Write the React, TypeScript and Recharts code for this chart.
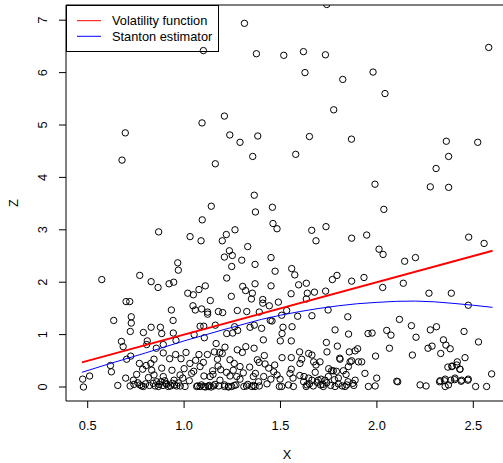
import React from "react";
import { ScatterChart, Scatter, XAxis, YAxis, ReferenceLine, Label } from "recharts";

const pointX = [
  1.74, 1.313, 1.1, 1.375, 1.517, 1.619, 1.733, 1.627, 1.98, 1.823,
  2.042, 1.776, 2.58, 1.209, 1.093, 0.695, 1.237, 1.382, 1.65, 1.868,
  1.29, 2.36, 2.523, 1.356, 1.579, 2.372, 0.678, 1.162, 2.307, 1.99,
  2.277, 2.372, 1.364, 1.141, 1.458, 1.37, 2.036, 1.094, 1.461, 1.482,
  1.736, 0.868, 1.264, 1.662, 1.219, 1.031, 1.947, 1.869, 1.198, 1.088,
  1.684, 2.476, 2.556, 1.33, 1.235, 1.25, 2.011, 2.032, 1.209, 1.451,
  2.2, 1.299, 2.144, 0.967, 1.247, 1.368, 0.97, 1.558, 1.472, 1.574,
  0.77, 1.793, 0.573, 1.221, 1.933, 0.829, 0.946, 0.922, 1.769, 1.869,
  1.368, 1.634, 1.594, 1.304, 1.11, 0.865, 1.451, 2.03, 2.137, 1.077,
  1.319, 1.019, 1.048, 1.354, 1.676, 1.734, 1.639, 2.27, 2.386, 1.245,
  1.555, 1.634, 1.408, 1.349, 1.136, 1.489, 1.408, 0.699, 0.718, 1.046,
  1.058, 1.091, 1.442, 0.934, 1.276, 1.325, 1.178, 1.122, 1.122, 1.2,
  1.39, 1.532, 1.506, 1.589, 1.663, 1.747, 1.849, 2.474, 0.726, 0.943,
  0.635, 0.726, 1.364, 1.447, 1.456, 2.117, 2.179, 2.309, 2.277, 1.083,
  1.102, 1.162, 1.262, 1.342, 1.402, 1.513, 1.56, 0.877, 0.829, 0.721,
  0.789, 0.884, 0.944, 1.221, 1.278, 1.252, 1.508, 1.783, 1.853, 1.954,
  1.975, 2.051, 2.073, 2.452, 1.052, 1.105, 2.203, 2.345, 1.499, 1.556,
  0.675, 0.809, 0.958, 1.411, 2.527, 0.806, 0.684, 0.892, 1.166, 1.32,
  1.363, 1.738, 1.795, 2.286, 2.358, 2.065, 2.265, 2.38, 1.9, 1.887,
  1.212, 1.276, 1.302, 1.157, 1.198, 1.01, 0.856, 0.892, 0.956, 1.077,
  1.121, 1.185, 1.599, 1.646, 1.663, 1.741, 1.807, 1.857, 2.331, 2.184,
  1.993, 2.457, 1.416, 1.508, 1.556, 0.702, 0.723, 0.925, 0.984, 1.06,
  1.173, 1.238, 1.921, 1.869, 1.672, 1.38, 1.389, 0.474, 0.51, 0.478,
  0.618, 0.623, 0.656, 0.697, 0.72, 0.737, 0.754, 0.768, 0.785, 0.803,
  0.815, 0.771, 0.789, 0.827, 0.844, 0.832, 0.844, 0.858, 0.867, 0.884,
  0.892, 0.905, 0.918, 0.937, 0.948, 0.962, 0.979, 0.993, 1.005, 1.027,
  1.039, 1.065, 1.083, 1.103, 1.126, 1.152, 1.083, 1.103, 1.135, 1.148,
  1.176, 1.186, 1.209, 1.23, 1.247, 1.269, 1.238, 1.255, 1.273, 1.29,
  1.307, 1.324, 1.351, 1.368, 1.359, 1.386, 1.413, 1.43, 1.439, 1.465,
  1.482, 1.494, 1.506, 1.498, 1.541, 1.549, 1.556, 1.565, 1.567, 1.601,
  1.61, 1.622, 1.633, 1.637, 1.646, 1.663, 1.684, 1.705, 1.696, 1.708,
  1.722, 1.731, 1.748, 1.765, 1.774, 1.783, 1.8, 1.809, 1.826, 1.835,
  1.843, 1.852, 1.861, 1.875, 1.887, 1.904, 1.938, 1.956, 1.991, 1.999,
  2.103, 2.108, 2.224, 2.255, 2.328, 2.354, 2.371, 2.368, 2.389, 2.354,
  2.383, 2.405, 2.417, 2.431, 2.44, 2.414, 2.474, 2.512, 2.569, 2.595,
  0.74, 0.76, 0.78, 0.8, 0.82, 0.84, 0.85, 0.87, 0.88, 0.89,
  0.9, 0.91, 0.93, 0.94, 0.95, 0.97, 0.98, 1.07, 1.09, 1.11,
  1.13, 1.14, 1.16, 1.18, 1.21, 1.23, 1.26, 1.31, 1.33, 1.36,
  1.39, 1.0, 1.03, 1.05, 1.1, 1.15, 1.19, 1.22, 1.26, 1.29,
  1.34, 1.37, 1.42, 1.45, 1.47, 1.62, 1.65, 1.67, 1.69, 1.71,
  1.72, 1.74, 1.76, 1.78, 1.8, 1.82, 1.85, 1.88, 1.6, 1.68,
  1.75, 1.79, 1.84, 2.325, 2.351, 2.403, 2.437, 2.472, 2.43, 2.39,
];
const pointZ = [
  7.3, 6.94, 6.42, 6.36, 6.33, 6.4, 6.34, 6.0, 6.01, 5.87,
  5.6, 5.29, 6.48, 5.17, 5.04, 4.85, 4.81, 4.79, 4.78, 4.73,
  4.67, 4.69, 4.67, 4.4, 4.44, 4.4, 4.33, 4.26, 4.17, 3.87,
  3.82, 3.81, 3.66, 3.45, 3.43, 3.34, 3.39, 3.19, 3.12, 3.02,
  3.06, 2.96, 3.0, 2.99, 2.91, 2.87, 2.9, 2.84, 2.79, 2.79,
  2.79, 2.86, 2.74, 2.68, 2.6, 2.51, 2.63, 2.53, 2.48, 2.47,
  2.47, 2.42, 2.4, 2.37, 2.3, 2.34, 2.23, 2.26, 2.21, 2.14,
  2.13, 2.13, 2.05, 2.08, 2.09, 2.01, 2.0, 1.97, 2.05, 2.02,
  1.97, 1.98, 1.95, 1.92, 1.93, 1.9, 1.93, 1.9, 1.98, 1.86,
  1.84, 1.79, 1.76, 1.79, 1.81, 1.83, 1.79, 1.79, 1.79, 1.73,
  1.78, 1.68, 1.67, 1.68, 1.65, 1.62, 1.6, 1.63, 1.63, 1.55,
  1.47, 1.49, 1.55, 1.47, 1.46, 1.44, 1.44, 1.43, 1.39, 1.42,
  1.43, 1.46, 1.37, 1.35, 1.36, 1.47, 1.34, 1.56, 1.34, 1.27,
  1.27, 1.22, 1.18, 1.27, 1.26, 1.29, 1.17, 1.15, 1.09, 1.16,
  1.16, 1.18, 1.15, 1.14, 1.12, 1.14, 1.15, 1.14, 1.14, 1.06,
  1.04, 1.02, 1.03, 1.02, 1.08, 1.03, 1.02, 1.09, 1.01, 1.02,
  1.03, 1.08, 0.99, 1.06, 1.0, 0.94, 0.95, 0.9, 0.88, 0.88,
  0.87, 0.88, 0.89, 0.9, 0.86, 0.81, 0.77, 0.81, 0.83, 0.77,
  0.74, 0.85, 0.78, 0.78, 0.8, 0.74, 0.74, 0.73, 0.73, 0.69,
  0.76, 0.71, 0.66, 0.67, 0.64, 0.66, 0.74, 0.65, 0.62, 0.62,
  0.62, 0.66, 0.67, 0.64, 0.61, 0.67, 0.55, 0.67, 0.64, 0.61,
  0.59, 0.56, 0.6, 0.56, 0.56, 0.53, 0.59, 0.54, 0.54, 0.51,
  0.53, 0.52, 0.48, 0.5, 0.48, 0.52, 0.47, 0.15, 0.21, 0.0,
  0.41, 0.29, 0.03, 0.17, 0.02, 0.13, 0.24, 0.45, 0.34, 0.41,
  0.18, 0.04, 0.01, 0.45, 0.53, 0.32, 0.23, 0.1, 0.01, 0.36,
  0.2, 0.07, 0.01, 0.32, 0.13, 0.02, 0.23, 0.17, 0.01, 0.12,
  0.26, 0.01, 0.01, 0.01, 0.01, 0.02, 0.39, 0.21, 0.2, 0.31,
  0.4, 0.13, 0.01, 0.01, 0.01, 0.04, 0.21, 0.32, 0.2, 0.39,
  0.27, 0.02, 0.01, 0.01, 0.2, 0.1, 0.2, 0.06, 0.36, 0.29,
  0.23, 0.01, 0.01, 0.15, 0.04, 0.26, 0.34, 0.17, 0.01, 0.45,
  0.53, 0.2, 0.01, 0.04, 0.17, 0.13, 0.42, 0.48, 0.13, 0.04,
  0.01, 0.13, 0.2, 0.31, 0.31, 0.01, 0.17, 0.53, 0.31, 0.01,
  0.04, 0.39, 0.48, 0.07, 0.13, 0.48, 0.26, 0.01, 0.02, 0.17,
  0.11, 0.1, 0.04, 0.02, 0.12, 0.01, 0.04, 0.38, 0.39, 0.15,
  0.13, 0.17, 0.48, 0.34, 0.13, 0.42, 0.15, 0.01, 0.01, 0.25,
  0.05, 0.08, 0.02, 0.06, 0.03, 0.07, 0.02, 0.05, 0.1, 0.03,
  0.12, 0.05, 0.02, 0.07, 0.04, 0.08, 0.02, 0.02, 0.04, 0.0,
  0.03, 0.0, 0.05, 0.02, 0.04, 0.0, 0.03, 0.01, 0.05, 0.03,
  0.02, 0.35, 0.45, 0.3, 0.47, 0.24, 0.33, 0.28, 0.45, 0.15,
  0.38, 0.26, 0.44, 0.15, 0.42, 0.1, 0.06, 0.02, 0.09, 0.15,
  0.05, 0.08, 0.03, 0.14, 0.06, 0.02, 0.1, 0.03, 0.22, 0.28,
  0.35, 0.3, 0.24, 0.1, 0.12, 0.14, 0.11, 0.13, 0.34, 0.4,
];

// fitted curves
const volatilityX = [0.47, 2.6];
const volatilityZ = [0.47, 2.6];
const stantonX = [0.47, 0.6, 0.8, 1.0, 1.2, 1.4, 1.5, 1.6, 1.7, 1.8, 1.9, 2.0, 2.1, 2.2, 2.3, 2.4, 2.5, 2.6];
const stantonZ = [0.28, 0.43, 0.65, 0.88, 1.09, 1.29, 1.37, 1.44, 1.5, 1.55, 1.59, 1.615, 1.635, 1.64, 1.625, 1.595, 1.56, 1.52];

const xTicks = [0.5, 1.0, 1.5, 2.0, 2.5];
const zTicks = [0, 1, 2, 3, 4, 5, 6, 7];

const FONT = '"Liberation Sans", Arial, Helvetica, sans-serif';
const FS = 12.8;

const points = pointX.map((x, i) => ({ x, z: pointZ[i] }));
const volatility = volatilityX.map((x, i) => ({ x, z: volatilityZ[i] }));
const stanton = stantonX.map((x, i) => ({ x, z: stantonZ[i] }));

const OpenCircle = (p: any) => (
  <circle cx={p.cx} cy={p.cy} r={3.2} fill="none" stroke="#000" strokeWidth={1} />
);
const NoDot = () => <g />;

const ZTick = (props: any) => {
  const { x, y, payload } = props;
  const tx = x - 12;
  return (
    <text
      x={tx}
      y={y}
      transform={`rotate(-90, ${tx}, ${y})`}
      textAnchor="middle"
      fontSize={FS}
      fontFamily={FONT}
      fill="#000"
    >
      {payload.value}
    </text>
  );
};

const ZTitle = (props: any) => {
  const vb = props.viewBox || { x: 0, y: 5, width: 66, height: 396 };
  const cx = 18;
  const cy = vb.y + vb.height / 2;
  return (
    <text
      x={cx}
      y={cy}
      transform={`rotate(-90, ${cx}, ${cy})`}
      textAnchor="middle"
      fontSize={FS}
      fontFamily={FONT}
      fill="#000"
    >
      Z
    </text>
  );
};

export default function App() {
  return (
    <div style={{ position: "absolute", left: 0, top: 0, width: 503, height: 463, background: "#fff" }}>
      <ScatterChart width={503} height={463} margin={{ top: 5, right: 0, bottom: 0, left: 0 }}>
        <XAxis
          type="number"
          dataKey="x"
          domain={[0.3875, 2.654]}
          allowDataOverflow
          ticks={xTicks}
          tickFormatter={(v: number) => v.toFixed(1)}
          height={62}
          tickSize={7}
          tickMargin={13}
          stroke="#000"
          tick={{ fill: "#000", fontSize: FS, fontFamily: FONT }}
        >
          <Label value="X" position="insideBottom" offset={4.5} dx={2.5} fill="#000" fontSize={FS} fontFamily={FONT} />
        </XAxis>
        <YAxis
          type="number"
          dataKey="z"
          domain={[-0.267, 7.29]}
          allowDataOverflow
          ticks={zTicks}
          width={66}
          tickSize={7}
          tickMargin={0}
          stroke="#000"
          tick={<ZTick />}
        >
          <Label content={<ZTitle />} />
        </YAxis>
        <ReferenceLine y={7.29} stroke="#000" strokeWidth={1} />
        <Scatter data={points} shape={<OpenCircle />} isAnimationActive={false} />
        <Scatter
          data={volatility}
          line={{ stroke: "#ff0000", strokeWidth: 2 }}
          lineType="joint"
          shape={<NoDot />}
          isAnimationActive={false}
        />
        <Scatter
          data={stanton}
          line={{ stroke: "#0000ff", strokeWidth: 1 }}
          lineType="joint"
          shape={<NoDot />}
          isAnimationActive={false}
        />
      </ScatterChart>
      <svg
        width={153}
        height={47}
        style={{ position: "absolute", left: 66, top: 5, overflow: "visible" }}
      >
        <rect x={0.5} y={0.5} width={152} height={46} fill="none" stroke="#000" />
        <line x1={11} x2={35} y1={15.7} y2={15.7} stroke="#ff0000" strokeWidth={1} />
        <line x1={11} x2={35} y1={31.3} y2={31.3} stroke="#0000ff" strokeWidth={1} />
        <text x={46} y={20.3} fontSize={FS} fontFamily={FONT} fill="#000">
          Volatility function
        </text>
        <text x={46} y={35.9} fontSize={FS} fontFamily={FONT} fill="#000">
          Stanton estimator
        </text>
      </svg>
    </div>
  );
}
